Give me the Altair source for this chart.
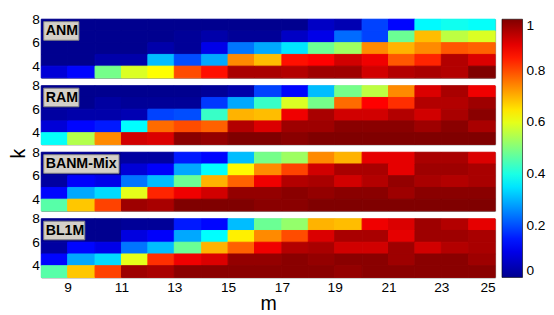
import altair as alt
import pandas as pd

# left edges of the cells (pcolor style): m from 8 to 24, k from 3 to 7
m_edges = list(range(8, 25))
k_rows = [7, 6, 5, 4, 3]          # top row first

panel_names = ["ANM", "RAM", "BANM-Mix", "BL1M"]

anm = [
    [0.0, 0.0, 0.0, 0.0, 0.0, 0.0, 0.0, 0.0, 0.0, 0.0, 0.06, 0.04, 0.19, 0.13, 0.37, 0.39, 0.38],
    [0.0, 0.0, 0.0, 0.0, 0.0, 0.01, 0.03, 0.01, 0.01, 0.06, 0.10, 0.23, 0.19, 0.48, 0.69, 0.56, 0.59],
    [0.0, 0.0, 0.0, 0.0, 0.03, 0.01, 0.10, 0.24, 0.29, 0.35, 0.48, 0.53, 0.74, 0.70, 0.74, 0.79, 0.78],
    [0.0, 0.0, 0.03, 0.03, 0.31, 0.20, 0.29, 0.74, 0.69, 0.86, 0.875, 0.92, 0.89, 0.79, 0.84, 0.95, 0.91],
    [0.08, 0.13, 0.49, 0.59, 0.625, 0.80, 0.86, 0.96, 0.96, 0.95, 0.97, 0.97, 0.92, 0.95, 0.96, 0.95, 1.0],
]
ram = [
    [0.0, 0.0, 0.0, 0.0, 0.0, 0.0, 0.01, 0.03, 0.19, 0.13, 0.31, 0.49, 0.56, 0.74, 0.91, 0.96, 0.89],
    [0.0, 0.0, 0.02, 0.01, 0.01, 0.01, 0.18, 0.29, 0.43, 0.59, 0.49, 0.77, 0.875, 0.83, 0.95, 0.95, 0.97],
    [0.02, 0.03, 0.03, 0.04, 0.19, 0.20, 0.43, 0.70, 0.69, 0.89, 0.96, 0.92, 0.92, 0.95, 0.92, 0.96, 0.99],
    [0.08, 0.13, 0.15, 0.375, 0.77, 0.80, 0.78, 0.95, 0.91, 0.97, 0.97, 0.99, 0.99, 0.99, 0.97, 0.99, 0.96],
    [0.38, 0.55, 0.74, 0.92, 0.91, 0.99, 0.98, 1.0, 1.0, 0.99, 1.0, 1.0, 1.0, 1.0, 1.0, 1.0, 1.0],
]
banm_mix = [
    [0.0, 0.0, 0.0, 0.02, 0.02, 0.15, 0.13, 0.31, 0.49, 0.53, 0.74, 0.70, 0.90, 0.90, 0.96, 0.96, 0.91],
    [0.0, 0.0, 0.0, 0.08, 0.12, 0.29, 0.375, 0.63, 0.74, 0.81, 0.92, 0.96, 0.96, 0.90, 0.97, 0.97, 0.96],
    [0.02, 0.12, 0.10, 0.24, 0.31, 0.48, 0.70, 0.78, 0.89, 0.95, 0.96, 0.92, 0.95, 0.98, 0.96, 0.95, 0.96],
    [0.13, 0.29, 0.34, 0.60, 0.84, 0.89, 0.92, 0.98, 0.98, 0.99, 0.98, 0.99, 0.99, 0.97, 0.99, 0.99, 0.99],
    [0.46, 0.68, 0.81, 0.97, 0.96, 1.0, 1.0, 1.0, 0.99, 0.99, 1.0, 1.0, 1.0, 1.0, 1.0, 1.0, 1.0],
]
bl1m = [
    [0.0, 0.0, 0.0, 0.01, 0.01, 0.15, 0.13, 0.31, 0.48, 0.52, 0.70, 0.69, 0.89, 0.91, 0.97, 0.95, 0.90],
    [0.0, 0.0, 0.0, 0.09, 0.12, 0.29, 0.375, 0.64, 0.74, 0.80, 0.91, 0.96, 0.96, 0.90, 0.97, 0.97, 0.96],
    [0.02, 0.13, 0.10, 0.24, 0.31, 0.48, 0.70, 0.78, 0.89, 0.95, 0.96, 0.92, 0.92, 0.97, 0.92, 0.95, 0.96],
    [0.13, 0.29, 0.34, 0.60, 0.83, 0.89, 0.91, 0.98, 0.98, 0.99, 0.98, 0.99, 0.99, 0.97, 0.99, 0.99, 0.97],
    [0.46, 0.68, 0.81, 0.97, 0.96, 0.99, 0.99, 0.99, 0.99, 0.99, 0.99, 0.98, 0.99, 0.99, 0.99, 0.99, 0.99],
]
panel_values = [anm, ram, banm_mix, bl1m]

x_ticks = [9, 11, 13, 15, 17, 19, 21, 23, 25]
y_ticks = [4, 6, 8]
legend_ticks = [0, 0.2, 0.4, 0.6, 0.8, 1]

# jet colour map
jet_domain = [0, 0.125, 0.375, 0.625, 0.875, 1]
jet_range = ["#00008f", "#0000ff", "#00ffff", "#ffff00", "#ff0000", "#800000"]

W, H, GAP = 464, 60, 8
FONT = "Liberation Sans"

box_widths = {"ANM": 36, "RAM": 36, "BANM-Mix": 77, "BL1M": 42}


def make_panel(idx):
    name = panel_names[idx]
    rows = panel_values[idx]
    recs = []
    for r, k in enumerate(k_rows):
        for c, m in enumerate(m_edges):
            recs.append({"m": m, "m2": m + 1, "k": k, "k2": k + 1, "v": rows[r][c]})
    df = pd.DataFrame(recs)

    last = idx == len(panel_names) - 1
    if last:
        x_axis = alt.Axis(values=x_ticks, title="m", titleFontSize=20, titleFontWeight="normal",
                          titlePadding=0, labelPadding=3, grid=False, domain=False, ticks=False)
    else:
        x_axis = None
    if idx == 1:
        y_axis = alt.Axis(values=y_ticks, title="k", titleFontSize=20, titleFontWeight="normal",
                          titlePadding=3, titleY=H + GAP / 2 + 5, grid=False, domain=False, ticks=False)
    else:
        y_axis = alt.Axis(values=y_ticks, title=None, grid=False, domain=False, ticks=False)

    heat = alt.Chart(df).mark_rect(
        stroke=alt.ExprRef(expr="scale('color', datum.v)"), strokeWidth=1
    ).encode(
        x=alt.X("m:Q", scale=alt.Scale(domain=[8, 25], nice=False, zero=False, round=True), axis=x_axis),
        x2="m2:Q",
        y=alt.Y("k:Q", scale=alt.Scale(domain=[3, 8], nice=False, zero=False, round=True), axis=y_axis),
        y2="k2:Q",
        color=alt.Color(
            "v:Q",
            scale=alt.Scale(domain=jet_domain, range=jet_range, interpolate="rgb"),
            legend=alt.Legend(
                title=None, values=legend_ticks, format="~g", gradientLength=4 * H + 3 * GAP,
                gradientThickness=21, labelFontSize=14, labelFont=FONT, labelColor="#000",
                gradientStrokeColor="#000", gradientStrokeWidth=0.6, offset=6, padding=0,
                labelOffset=4, orient="right",
            ),
        ),
    )
    lab = pd.DataFrame({"label": [name]})
    box = alt.Chart(lab).mark_rect(fill="#d4d0c8", stroke="#808080", strokeWidth=1).encode(
        x=alt.value(2.5), x2=alt.value(2.5 + box_widths[name]), y=alt.value(2.5), y2=alt.value(21.5)
    )
    txt = alt.Chart(lab).mark_text(
        align="left", baseline="middle", font=FONT, fontSize=14.5, fontWeight="bold", color="#000"
    ).encode(x=alt.value(4.5), y=alt.value(12.5), text="label:N")
    return alt.layer(heat, box, txt).properties(width=W, height=H)


chart = alt.vconcat(
    *[make_panel(i) for i in range(4)], spacing=GAP, bounds="flush"
).resolve_scale(
    color="shared"
).properties(
    padding={"left": 0, "top": 0, "right": 0, "bottom": 0}, background="white"
).configure_view(
    stroke="#8c8c8c", strokeWidth=1
).configure_axis(
    labelFont=FONT, labelFontSize=14, labelColor="#000", titleFont=FONT, titleColor="#000", labelPadding=2
)

chart.save("out.html", embed_options={"renderer": "svg", "actions": False})
